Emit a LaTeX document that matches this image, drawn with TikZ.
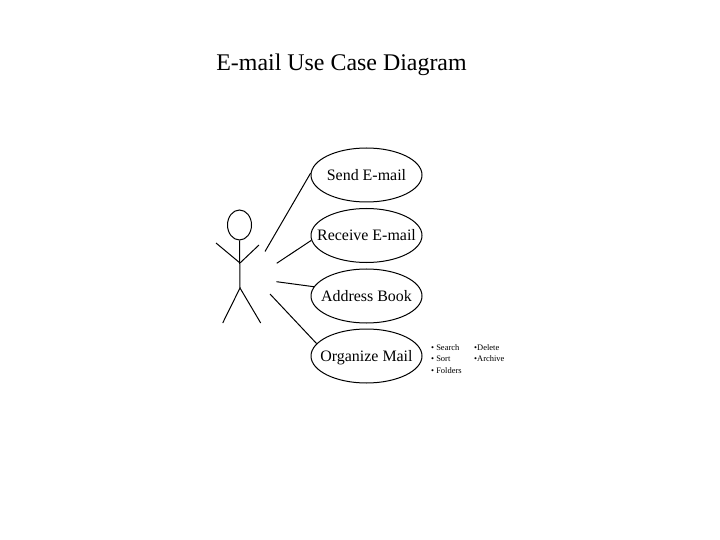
\documentclass[tikz,border=0pt]{standalone}
\usepackage{fontspec}
\setmainfont{Liberation Serif}
\usetikzlibrary{shapes.geometric}
\tikzset{
  usecase/.style={ellipse, draw, line width=1bp, minimum width=111bp, minimum height=54bp, inner sep=0pt},
  uclabel/.style={inner sep=0pt, text height=11bp, text depth=0pt, font=\fontsize{16}{18}\selectfont},
  stick/.style={line width=1bp},
  assoc/.style={line width=1bp},
  bul/.style={anchor=base west, inner sep=0pt, font=\fontsize{8.5}{10}\selectfont}
}
\begin{document}
\begin{tikzpicture}[x=1bp,y=-1bp]
\useasboundingbox (0,0) rectangle (720,540);
\fill[white] (0,0) rectangle (720,540);
\node[anchor=base, inner sep=0pt, font=\fontsize{24}{28}\selectfont] (title) at (341.5,70.7) {E-mail Use Case Diagram};
% use cases
\node[usecase, label={[uclabel]center:Send E-mail}] (send) at (366.5,175) {};
\node[usecase, label={[uclabel]center:Receive E-mail}] (recv) at (366.5,235.5) {};
\node[usecase, label={[uclabel]center:Address Book}] (addr) at (366.5,296) {};
\node[usecase, label={[uclabel]center:Organize Mail}] (org) at (366.5,356) {};
% actor
\node[ellipse, draw, line width=1bp, minimum width=24bp, minimum height=30bp, inner sep=0pt] (head) at (239.5,225) {};
\coordinate (neck) at (240,240);
\coordinate (hip) at (240,288);
\coordinate (shoulder) at (240,263);
\coordinate (lhand) at (216,243);
\coordinate (rhand) at (259,245);
\coordinate (lfoot) at (222.7,323);
\coordinate (rfoot) at (260.7,323);
\draw[stick] (head.south) -- (hip);
\draw[stick] (lhand) -- (shoulder) -- (rhand);
\draw[stick] (lfoot) -- (hip) -- (rfoot);
% associations
\coordinate (s1) at (265,251.5);
\coordinate (s2) at (276.7,263.3);
\coordinate (s3) at (276.5,281.7);
\coordinate (s4) at (270,294);
\draw[assoc] (s1) -- (send.178);
\draw[assoc] (s2) -- (recv.185);
\draw[assoc] (s3) -- (addr.170);
\draw[assoc] (s4) -- (org.166);
% notes
\node[bul] (n1) at (431,350.7) {• Search};
\node[bul] (n2) at (431,361.7) {• Sort};
\node[bul] (n3) at (431,373.3) {• Folders};
\node[bul] (n4) at (474,350.7) {•Delete};
\node[bul] (n5) at (474,361.7) {•Archive};
\end{tikzpicture}
\end{document}
